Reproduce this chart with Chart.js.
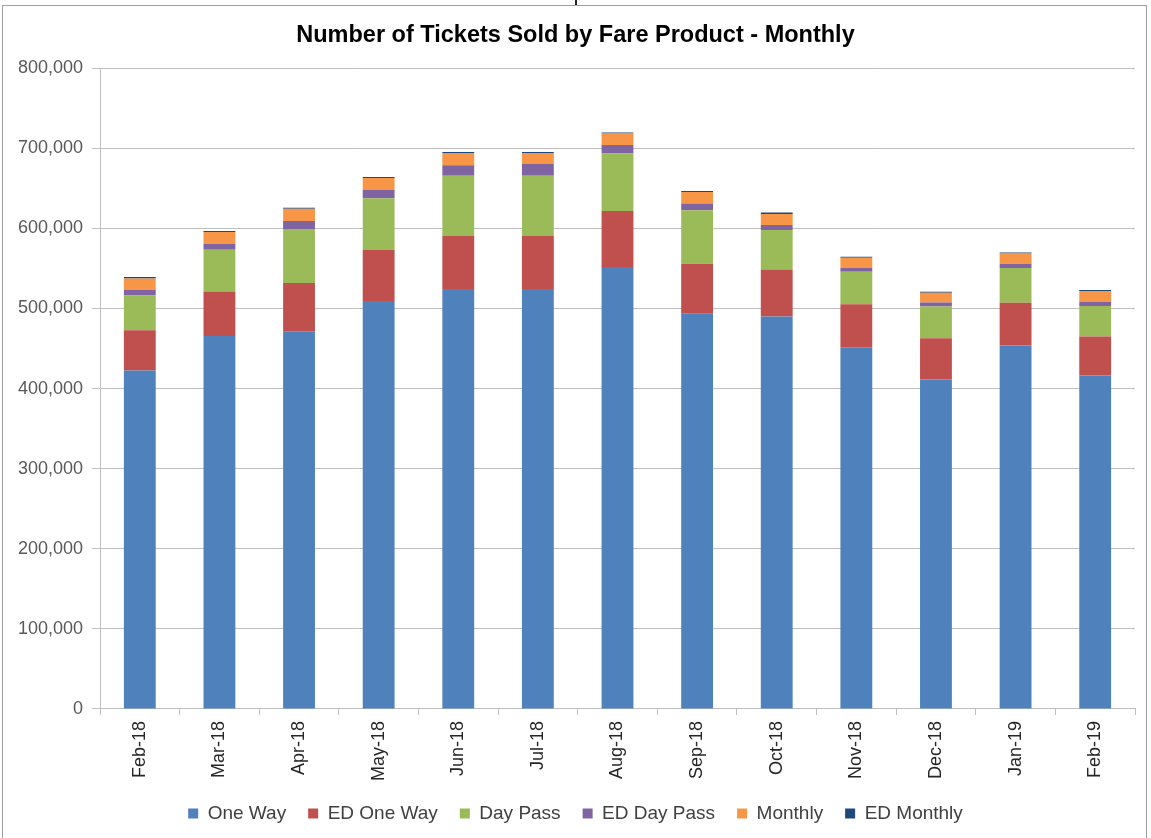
<!DOCTYPE html>
<html>
<head>
<meta charset="utf-8">
<script src="https://cdn.jsdelivr.net/npm/chart.js@4/dist/chart.umd.min.js"></script>
<style>
  html, body { margin: 0; padding: 0; background: #ffffff; }
  #wrap { position: relative; width: 1151px; height: 838px; overflow: hidden; }
  #frame { position: absolute; left: 2px; top: 5px; width: 1145px; height: 850px; border: 1px solid #a0a0a0; box-sizing: border-box; }
  #cut { position: absolute; left: 575px; top: 0px; width: 2px; height: 5px; background: #222; }
  canvas { position: absolute; left: 0; top: 0; }
</style>
</head>
<body>
<div id="wrap">
  <div id="frame"></div>
  <div id="cut"></div>
  <canvas id="c" width="1151" height="838"></canvas>
</div>
<script>
const categories = ["Feb-18","Mar-18","Apr-18","May-18","Jun-18","Jul-18","Aug-18","Sep-18","Oct-18","Nov-18","Dec-18","Jan-19","Feb-19"];
const oneWay    = [422500, 465800, 471700, 509200, 524200, 524200, 551700, 493300, 490000, 451700, 411300, 453800, 416300];
const edOneWay  = [50400, 55400, 60000, 63700, 66200, 66200, 70000, 62500, 58800, 53700, 51700, 53300, 48800];
const dayPass   = [43400, 52100, 67500, 64600, 75400, 75400, 71700, 66700, 49200, 40400, 39600, 43300, 37900];
const edDayPass = [7100, 7500, 10000, 10400, 12900, 14600, 10800, 8700, 6300, 5000, 5000, 5400, 5500];
const monthly   = [14200, 14600, 15400, 15000, 15400, 13800, 14200, 14200, 13700, 12500, 12100, 13000, 13300];
const edMonthly = [1700, 1300, 1200, 1300, 1200, 1200, 1300, 1300, 1700, 1300, 1200, 1200, 1200];
const yTicks = [0, 100000, 200000, 300000, 400000, 500000, 600000, 700000, 800000];

const FONT = "'Liberation Sans', Arial, sans-serif";

function ds(label, data, color) {
  return { label: label, data: data, backgroundColor: color, borderWidth: 0,
           barPercentage: 0.8, categoryPercentage: 0.5 };
}

new Chart(document.getElementById('c'), {
  type: 'bar',
  data: {
    labels: categories,
    datasets: [
      ds('One Way', oneWay, '#4F81BD'),
      ds('ED One Way', edOneWay, '#C0504D'),
      ds('Day Pass', dayPass, '#9BBB59'),
      ds('ED Day Pass', edDayPass, '#8064A2'),
      ds('Monthly', monthly, '#F79646'),
      ds('ED Monthly', edMonthly, '#1F497D')
    ]
  },
  options: {
    responsive: false,
    animation: false,
    devicePixelRatio: 1,
    layout: { padding: { left: 16, right: 16, top: 0, bottom: 5 } },
    plugins: {
      title: {
        display: true,
        text: 'Number of Tickets Sold by Fare Product - Monthly',
        color: '#000000',
        font: { family: FONT, size: 23.5, weight: 'bold' },
        padding: { top: 21, bottom: 19 }
      },
      legend: {
        position: 'bottom',
        labels: {
          boxWidth: 10, boxHeight: 10, padding: 22,
          color: '#404040',
          font: { family: FONT, size: 19 }
        }
      },
      tooltip: { enabled: false }
    },
    scales: {
      x: {
        stacked: true,
        afterFit: function(scale) { scale.height = scale.height - 5; },
        grid: { display: true, drawOnChartArea: false, drawTicks: true, tickLength: 6, color: '#bfbfbf', offset: true },
        border: { color: '#bfbfbf', width: 1 },
        ticks: { color: '#262626', font: { family: FONT, size: 18 }, minRotation: 90, maxRotation: 90, padding: 6, autoSkip: false }
      },
      y: {
        stacked: true,
        min: 0, max: 800000,
        afterFit: function(scale) { scale.width = 84; },
        afterBuildTicks: function(scale) { scale.ticks = yTicks.map(v => ({ value: v })); },
        grid: { color: '#bfbfbf', tickLength: 8, drawTicks: true },
        border: { color: '#bfbfbf', width: 1 },
        ticks: {
          color: '#595959', padding: 9,
          font: { family: FONT, size: 18 },
          callback: function(v) { return v.toLocaleString('en-US'); }
        }
      }
    }
  }
});
</script>
</body>
</html>
